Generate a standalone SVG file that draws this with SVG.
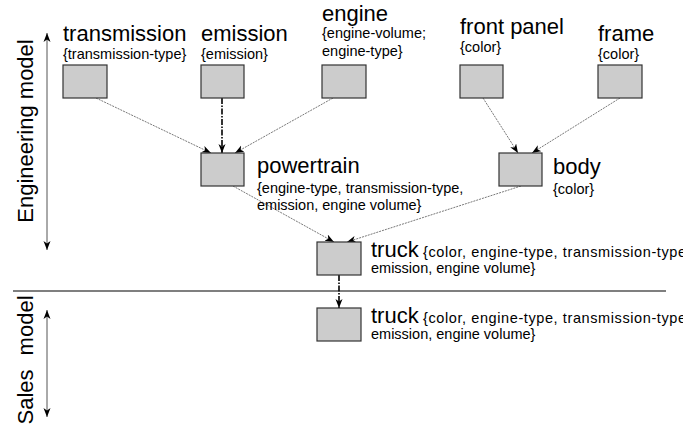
<svg xmlns="http://www.w3.org/2000/svg" width="683" height="426" viewBox="0 0 683 426">
<style>
.box{fill:#cccccc;stroke:#333333;stroke-width:1.2}
.big{font-family:"Liberation Sans",Arial,Helvetica,sans-serif;font-size:22px;fill:#000}
.small{font-family:"Liberation Sans",Arial,Helvetica,sans-serif;font-size:14.5px;fill:#000}
.thin{fill:none;stroke:#555555;stroke-width:0.8;stroke-dasharray:2,1;marker-end:url(#ah)}
.heavy{fill:none;stroke:#000000;stroke-width:1.6;stroke-dasharray:6,1.5,1.5,1.5;marker-end:url(#ah)}
.axis{fill:none;stroke:#555555;stroke-width:1;marker-start:url(#ahs);marker-end:url(#ah)}
</style>
<defs>
<marker id="ah" markerUnits="userSpaceOnUse" markerWidth="10" markerHeight="8" refX="9" refY="3.5" orient="auto">
<path d="M0,0 L9,3.5 L0,7 L2.5,3.5 Z" fill="#000"/>
</marker>
<marker id="ahs" markerUnits="userSpaceOnUse" markerWidth="10" markerHeight="8" refX="0" refY="3.5" orient="auto">
<path d="M9,0 L0,3.5 L9,7 L6.5,3.5 Z" fill="#000"/>
</marker>
</defs>

<g id="axes">
<line class="axis" x1="47" y1="33" x2="47" y2="250"/>
<text class="big" transform="translate(33,131) rotate(-90)" text-anchor="middle">Engineering model</text>
<line x1="13" y1="291" x2="666" y2="291" stroke="#000" stroke-width="1.1"/>
<line class="axis" x1="47" y1="310" x2="47" y2="417"/>
<text class="big" transform="translate(33,360) rotate(-90)" text-anchor="middle" word-spacing="8">Sales model</text>
</g>

<g id="connectors">
<line class="thin" x1="96" y1="98" x2="211" y2="153"/>
<line class="heavy" x1="222" y1="98" x2="222" y2="153"/>
<line class="thin" x1="333" y1="98" x2="235" y2="153"/>
<line class="thin" x1="483" y1="98" x2="518" y2="153"/>
<line class="thin" x1="620" y1="98" x2="532" y2="153"/>
<line class="thin" x1="233" y1="186" x2="334" y2="242"/>
<line class="thin" x1="521" y1="186" x2="347" y2="242"/>
<line class="heavy" x1="339" y1="275" x2="339" y2="308"/>
</g>

<g id="transmission">
<rect class="box" x="63" y="65" width="44" height="33"/>
<text class="big" x="63" y="41">transmission</text>
<text class="small" x="63" y="59">{transmission-type}</text>
</g>
<g id="emission">
<rect class="box" x="201" y="65" width="43" height="33"/>
<text class="big" x="201" y="41">emission</text>
<text class="small" x="201" y="59">{emission}</text>
</g>
<g id="engine">
<rect class="box" x="322" y="65" width="44" height="33"/>
<text class="big" x="322" y="21">engine</text>
<text class="small" x="322" y="38">{engine-volume;</text>
<text class="small" x="322" y="56">engine-type}</text>
</g>
<g id="front-panel">
<rect class="box" x="460" y="65" width="43" height="33"/>
<text class="big" x="460" y="34">front panel</text>
<text class="small" x="460" y="52">{color}</text>
</g>
<g id="frame">
<rect class="box" x="598" y="65" width="44" height="33"/>
<text class="big" x="598" y="41">frame</text>
<text class="small" x="598" y="59">{color}</text>
</g>
<g id="powertrain">
<rect class="box" x="201" y="153" width="43" height="33"/>
<text class="big" x="257" y="173">powertrain</text>
<text class="small" x="257" y="193">{engine-type, transmission-type,</text>
<text class="small" x="257" y="210" font-size="14">emission, engine volume}</text>
</g>
<g id="body">
<rect class="box" x="499" y="153" width="43" height="33"/>
<text class="big" x="553" y="174">body</text>
<text class="small" x="553" y="194">{color}</text>
</g>
<g id="truck-engineering">
<rect class="box" x="317" y="242" width="44" height="33"/>
<text class="big" x="371" y="257">truck</text>
<text class="small" x="423" y="257" textLength="263" font-size="15">{color, engine-type, transmission-type</text>
<text class="small" x="371" y="273" font-size="14">emission, engine volume}</text>
</g>
<g id="truck-sales">
<rect class="box" x="317" y="308" width="44" height="33"/>
<text class="big" x="371" y="323">truck</text>
<text class="small" x="423" y="323" textLength="263" font-size="15">{color, engine-type, transmission-type</text>
<text class="small" x="371" y="339" font-size="14">emission, engine volume}</text>
</g>
</svg>
